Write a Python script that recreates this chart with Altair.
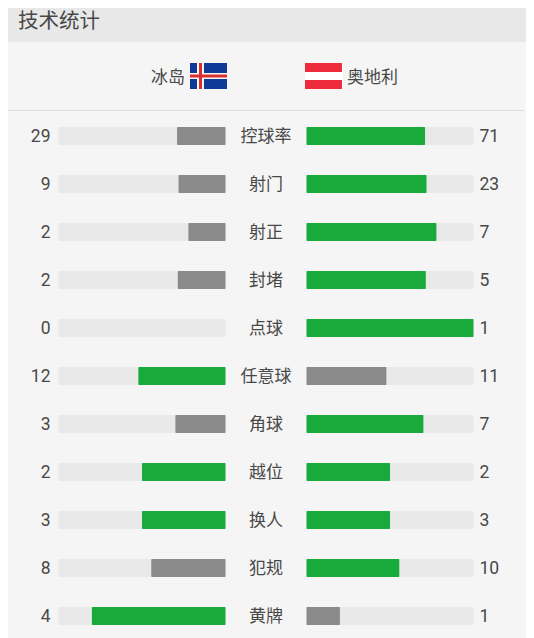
import altair as alt
import pandas as pd

categories = ["控球率", "射门", "射正", "封堵", "点球", "任意球", "角球", "越位", "换人", "犯规", "黄牌"]
iceland = [29, 9, 2, 2, 0, 12, 3, 2, 3, 8, 4]
austria = [71, 23, 7, 5, 1, 11, 7, 2, 3, 10, 1]
title_text = "技术统计"
team_left = "冰岛"
team_right = "奥地利"

GREEN, GRAY, TRACK = "#18ab3b", "#8a8a8a", "#e9e9e9"
BG, BAND, INK = "#f5f5f5", "#e8e8e8", "#484848"
CJK = "Noto Sans CJK SC"
NUM = "Roboto"
OX, OY = 8, 8  # the page margin

rows = []
GAP = 40.5 / 167  # half of the centre column, in track lengths
for i, (c, a, b) in enumerate(zip(categories, iceland, austria)):
    t = a + b
    sa, sb = a / t, b / t
    rows.append(dict(
        cat=c, a=str(a), b=str(b), top=i - 0.1875, bot=i + 0.1875, mid=i,
        tl0=-GAP - 1, tl1=-GAP, tr0=GAP, tr1=GAP + 1, centre=0,
        l0=-GAP - sa, l1=-GAP, r0=GAP, r1=GAP + sb,
        cl=GREEN if a >= b else GRAY, cr=GREEN if b >= a else GRAY,
    ))
df = pd.DataFrame(rows)
df_left = df[df["a"] != "0"]

xs = alt.Scale(domain=[(8 - 266) / 167, (526 - 266) / 167], nice=False, zero=False)
ys = alt.Scale(domain=[(8 - 136) / 48, (638 - 136) / 48], reverse=True, nice=False, zero=False)


def X(f):
    return alt.X(f"{f}:Q", scale=xs, axis=None)


def Y(f):
    return alt.Y(f"{f}:Q", scale=ys, axis=None)


def box(x0, x1, y0, y1, color):
    return alt.Chart(pd.DataFrame({"k": [0]})).mark_rect(color=color).encode(
        x=alt.value(max(x0 - OX, 0)), x2=alt.value(x1 - OX), y=alt.value(max(y0 - OY, 0)), y2=alt.value(y1 - OY))


def label(text, x, y, size, align, font=CJK, color=INK):
    return alt.Chart(pd.DataFrame({"t": [text]})).mark_text(
        font=font, fontSize=size, align=align, baseline="middle", color=color
    ).encode(x=alt.value(x - OX), y=alt.value(y - OY), text="t:N")


layers = [
    box(0, 526, 0, 42, BAND),
    label(title_text, 18, 22, 20.5, "left"),
    label(team_left, 151, 78, 17, "left"),
    label(team_right, 347, 78, 17, "left"),
    # Iceland flag
    box(190, 227, 63, 89, "#0f3a96"),
    box(190, 227, 73, 79, "#f4f4f4"),
    box(197, 204, 63, 89, "#f4f4f4"),
    box(190, 227, 74.5, 77.5, "#dc2f2f"),
    box(199, 202, 63, 89, "#dc2f2f"),
    # Austria flag
    box(305, 343, 63, 89, "#ffffff"),
    box(305, 342, 63, 72, "#ee2a3d"),
    box(305, 342, 80, 89, "#ee2a3d"),
    # separator
    box(6, 524, 110, 111, "#dedede"),
]

base = alt.Chart(df)
layers += [
    base.mark_rect(color=TRACK).encode(x=X("tl0"), x2="tl1:Q", y=Y("top"), y2="bot:Q"),
    base.mark_rect(color=TRACK).encode(x=X("tr0"), x2="tr1:Q", y=Y("top"), y2="bot:Q"),
    alt.Chart(df_left).mark_bar(cornerRadius=1).encode(
        x=X("l0"), x2="l1:Q", y=Y("top"), y2="bot:Q", color=alt.Color("cl:N", scale=None)),
    base.mark_bar(cornerRadius=1).encode(
        x=X("r0"), x2="r1:Q", y=Y("top"), y2="bot:Q", color=alt.Color("cr:N", scale=None)),
    base.mark_text(font=NUM, fontSize=17.5, align="right", baseline="middle", color=INK, dx=-8, dy=1).encode(
        x=X("tl0"), y=Y("mid"), text="a:N"),
    base.mark_text(font=NUM, fontSize=17.5, align="left", baseline="middle", color=INK, dx=6, dy=1).encode(
        x=X("tr1"), y=Y("mid"), text="b:N"),
    base.mark_text(font=CJK, fontSize=17, align="center", baseline="middle", color=INK, dy=1).encode(
        x=X("centre"), y=Y("mid"), text="cat:N"),
]

chart = alt.layer(*layers).properties(
    width=526 - OX, height=638 - OY, padding=0, background=BG,
    autosize=alt.AutoSizeParams(type="none"),
).configure_view(stroke=None)

chart.save("out.html", embed_options={"renderer": "svg", "actions": False})
